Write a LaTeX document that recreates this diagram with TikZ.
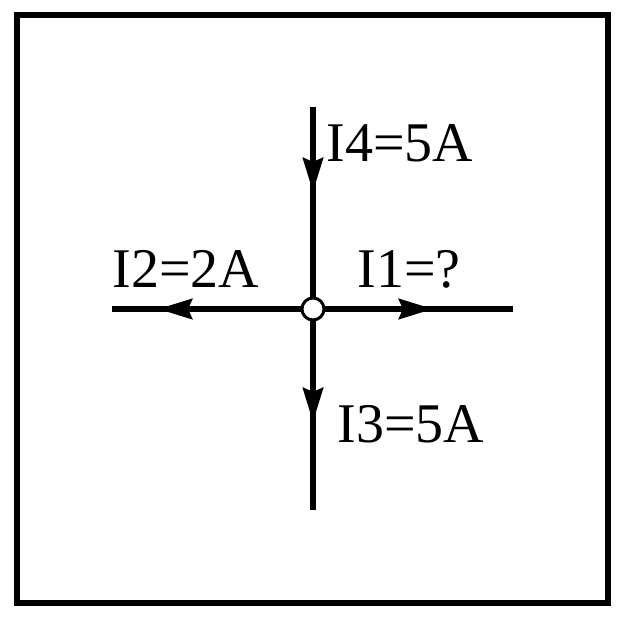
\documentclass[tikz,border=0pt]{standalone}
\usepackage{fontspec}
\setmainfont{Liberation Serif}
\usetikzlibrary{arrows.meta}
\begin{document}
\begin{tikzpicture}[x=0.5pt,y=-0.5pt,
    wire/.style={line width=3pt},
    flow/.style={wire,-{Stealth[length=17pt,width=10pt,inset=2pt]}},
    current/.style={anchor=base west,inner sep=0pt,font=\fontsize{28}{34}\selectfont}]
    \useasboundingbox (0,0) rectangle (622,620);

    % Draw frame
    \draw[line width=3pt] (17,15) rectangle (608,603);

    % Draw wire ends and arrow tips
    \coordinate (top) at (313,107);
    \coordinate (bottom) at (313,510);
    \coordinate (left) at (112,309);
    \coordinate (right) at (513,309);
    \coordinate (tip4) at (313,192);
    \coordinate (tip3) at (313,422);
    \coordinate (tip2) at (158,309);
    \coordinate (tip1) at (433,309);
    \coordinate (junction) at (313,309);

    % Draw wires
    \draw[wire] (top) -- (bottom);
    \draw[wire] (left) -- (right);

    % Draw arrows on the wires
    \draw[flow] (top) -- (tip4);
    \draw[flow] (junction) -- (tip3);
    \draw[flow] (junction) -- (tip2);
    \draw[flow] (junction) -- (tip1);

    % Draw node
    \node[circle,draw,line width=1.5pt,fill=white,minimum size=11pt,inner sep=0pt] (node) at (junction) {};

    % Label currents
    \node[current] (i4) at (326,162) {I4=5A};
    \node[current] (i2) at (112,288) {I2=2A};
    \node[current] (i1) at (357,288) {I1=?};
    \node[current] (i3) at (337,443) {I3=5A};
\end{tikzpicture}
\end{document}
